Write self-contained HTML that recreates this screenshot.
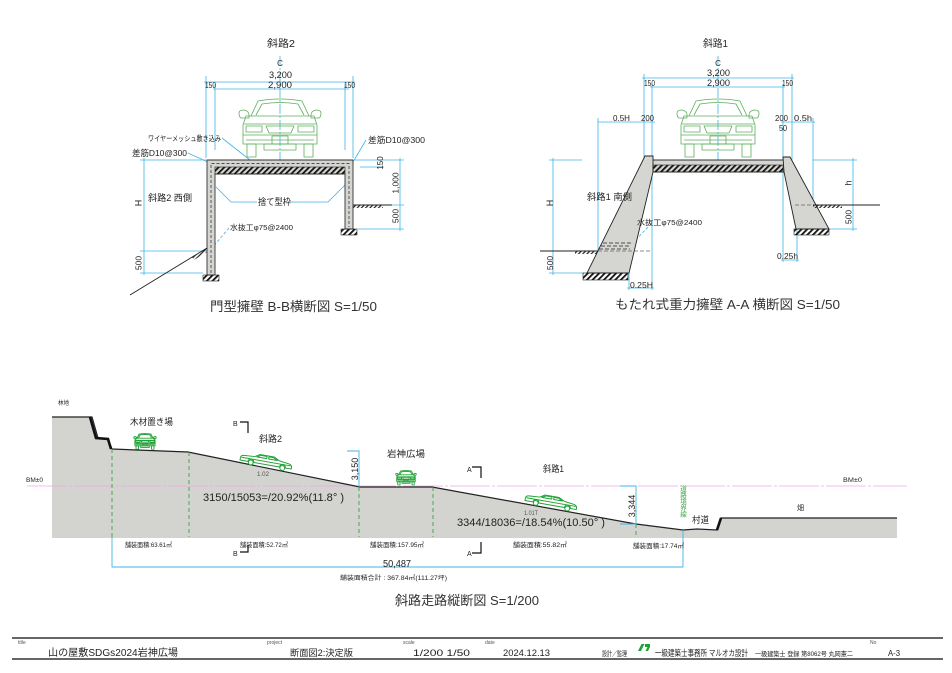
<!DOCTYPE html>
<html><head><meta charset="utf-8">
<style>html,body{margin:0;padding:0;background:#fff}svg{display:block}</style>
</head>
<body>
<svg width="952" height="673" viewBox="0 0 952 673" xmlns="http://www.w3.org/2000/svg" font-family="'Liberation Sans','Noto Sans CJK JP',sans-serif">
<defs>
<pattern id="h" width="4" height="4" patternUnits="userSpaceOnUse" patternTransform="rotate(45)"><rect width="1.8" height="4" fill="#111"/></pattern>
<pattern id="g" width="3" height="3" patternUnits="userSpaceOnUse" patternTransform="rotate(45)"><rect width="1.2" height="3" fill="#222"/></pattern>
<symbol id="carF" viewBox="0 0 88 61">
<g fill="none" stroke-linejoin="round">
<path d="M15,19 L22,4 Q44,0 66,4 L73,19"/>
<path d="M20,18 L26,7 Q44,4 62,7 L68,18"/>
<path d="M3,16 Q3,13 8,13 Q13,14 13,18 L13,21 L5,21 Q3,20 3,16Z"/>
<path d="M85,16 Q85,13 80,13 Q75,14 75,18 L75,21 L83,21 Q85,20 85,16Z"/>
<path d="M10,19 L78,19 L81,28 L81,47 L7,47 L7,28 Z"/>
<path d="M8,27 L80,27"/>
<rect x="10" y="29" width="16" height="6"/>
<rect x="62" y="29" width="16" height="6"/>
<path d="M30,29 L58,29 L55,36 L33,36 Z"/>
<path d="M7,38 L81,38 M10,43 L78,43"/>
<rect x="36" y="39" width="16" height="8"/>
<rect x="11" y="47" width="9" height="13"/>
<rect x="68" y="47" width="9" height="13"/>
<rect x="28" y="47" width="32" height="6"/>
</g>
</symbol>
<symbol id="carS" viewBox="0 0 54 13">
<g stroke-linejoin="round">
<path fill="#fff" d="M1,7 Q1,4.5 4,4.2 L15,3.5 L20,0.5 L34,0.5 L40,3.5 L50,4.8 Q53,5.5 53,8 L53,9.5 L47,9.5 A3,3 0 0 0 41,9.5 L15,9.5 A3,3 0 0 0 9,9.5 L1,9.5 Z"/>
<path fill="none" d="M17,3.5 L21,1.3 L27,1.3 L27,3.5 Z M29,3.5 L29,1.3 L33.5,1.3 L38,3.5 Z M2,6.5 L52,6.5"/>
<circle cx="12" cy="10" r="2.4" fill="#fff"/>
<circle cx="44" cy="10" r="2.4" fill="#fff"/>
</g>
</symbol>
</defs>
<rect width="952" height="673" fill="#fff"/>

<!-- ============ LEFT CROSS SECTION ============ -->
<g stroke="#3db5e6" stroke-width="0.8" fill="none">
<path d="M280,56 V160" stroke-dasharray="10 2 2 2"/>
<path d="M204,82 H355 M213,89 H349"/>
<path d="M206,76 V158 M215,84 V150 M345,84 V150 M353,76 V158"/>
<path d="M144,158 V275 M140,160 H206 M140,251 H207 M140,273 H203"/>
<path d="M400,158 V231 M355,160 H404 M355,205 H404 M358,229 H404 M360,167 H384"/>
<path d="M222,138 L250,160"/>
<path d="M188,153 L210,163"/>
<path d="M366,140 L353,162"/>
<path d="M257,202 H231 L216,187 M291,202 H328 L345,185"/>
<path d="M229,228 L212,248" stroke-dasharray="3 2"/>
</g>
<use href="#carF" x="236" y="97" width="88" height="61" stroke="#5cae5c" stroke-width="0.8"/>
<path d="M207,275 V160 H353 V229 H345 V174 H215 V275 Z" fill="#d5d5d1" stroke="#333" stroke-width="0.9"/>
<rect x="215" y="167" width="130" height="7" fill="url(#h)" stroke="#222" stroke-width="0.6"/>
<path d="M211,273 V163.5 H349 V227" fill="none" stroke="#222" stroke-width="0.7" stroke-dasharray="3 2"/>
<rect x="203" y="275" width="16" height="6" fill="url(#h)" stroke="#222" stroke-width="0.6"/>
<rect x="341" y="229" width="16" height="6" fill="url(#h)" stroke="#222" stroke-width="0.6"/>
<path d="M130,295 L207,248" stroke="#222" stroke-width="0.9"/>
<polygon points="192,257 207,248 207,252 194,260" fill="url(#g)"/>
<path d="M353,205 H392" stroke="#222" stroke-width="0.9"/>
<rect x="353" y="205" width="30" height="3" fill="url(#g)"/>

<g fill="#222">
<text x="267" y="47" font-size="10" textLength="28" lengthAdjust="spacingAndGlyphs">斜路2</text>
<text x="280" y="66" font-size="8" text-anchor="middle">C</text>
<text x="269" y="78" font-size="9" textLength="23" lengthAdjust="spacingAndGlyphs">3,200</text>
<text x="268" y="88" font-size="9" textLength="24" lengthAdjust="spacingAndGlyphs">2,900</text>
<text x="205" y="88" font-size="8" textLength="11" lengthAdjust="spacingAndGlyphs">150</text>
<text x="344" y="88" font-size="8" textLength="11" lengthAdjust="spacingAndGlyphs">150</text>
<text x="148" y="141" font-size="7.5" textLength="73" lengthAdjust="spacingAndGlyphs">ワイヤーメッシュ敷き込み</text>
<text x="132" y="156" font-size="8.5" textLength="55" lengthAdjust="spacingAndGlyphs">差筋D10@300</text>
<text x="368" y="143" font-size="8.5" textLength="57" lengthAdjust="spacingAndGlyphs">差筋D10@300</text>
<text x="148" y="201" font-size="9" textLength="44" lengthAdjust="spacingAndGlyphs">斜路2 西側</text>
<text x="258" y="205" font-size="9" textLength="33" lengthAdjust="spacingAndGlyphs">捨て型枠</text>
<text x="230" y="230" font-size="7.5" textLength="63" lengthAdjust="spacingAndGlyphs">水抜工φ75@2400</text>
<text transform="translate(141.5,203) rotate(-90)" font-size="9" text-anchor="middle">H</text>
<text transform="translate(141.5,263) rotate(-90)" font-size="8.5" text-anchor="middle">500</text>
<text transform="translate(398.5,183) rotate(-90)" font-size="8.5" text-anchor="middle">1,000</text>
<text transform="translate(398.5,216) rotate(-90)" font-size="8.5" text-anchor="middle">500</text>
<text transform="translate(383,163) rotate(-90)" font-size="8" text-anchor="middle">150</text>
<text x="210" y="311" font-size="13" textLength="167" lengthAdjust="spacingAndGlyphs" fill="#333">門型擁壁 B-B横断図 S=1/50</text>
</g>

<!-- ============ RIGHT CROSS SECTION ============ -->
<g stroke="#3db5e6" stroke-width="0.8" fill="none">
<path d="M718,56 V160" stroke-dasharray="10 2 2 2"/>
<path d="M642,78 H794 M650,87 H785"/>
<path d="M644,74 V160 M652,84 V290 M783,84 V262 M792,74 V160"/>
<path d="M598,122 H655 M598,118 V251 M781,122 H815 M813,118 V205"/>
<path d="M553,158 V275 M549,160 H582 M549,273 H584"/>
<path d="M853,158 V231 M813,160 H857 M826,229 H857"/>
<path d="M797,229 V262 M781,260 H799"/>
<path d="M629,273 V290 M627,288 H654"/>
<path d="M648,227 L633,243" stroke-dasharray="3 2"/>
</g>
<use href="#carF" x="674" y="97" width="88" height="61" stroke="#5cae5c" stroke-width="0.8"/>
<g stroke="#222" stroke-width="0.9" fill="#d5d5d1">
<rect x="645" y="160" width="145" height="12"/>
<path d="M645,156 H653 V172 L629,273 H587 Z"/>
<path d="M783,157 H790 L829,229 H796 L784,172 Z"/>
</g>
<rect x="653" y="165" width="130" height="7" fill="url(#h)" stroke="#222" stroke-width="0.6"/>
<rect x="583" y="273" width="45" height="7" fill="url(#h)" stroke="#222" stroke-width="0.6"/>
<rect x="794" y="229" width="35" height="6" fill="url(#h)" stroke="#222" stroke-width="0.6"/>
<path d="M603,243 H632 M601,246 H631 M599,249 H630" stroke="#222" stroke-width="0.7" stroke-dasharray="4 2"/>
<path d="M598,251 H650 M795,205 H813" stroke="#666" stroke-width="0.7" stroke-dasharray="4 2"/>
<path d="M540,251 H598 M813,205 H880" stroke="#222" stroke-width="0.9"/>
<rect x="575" y="251" width="22" height="3" fill="url(#g)"/>
<rect x="813" y="205" width="29" height="3" fill="url(#g)"/>

<g fill="#222">
<text x="703" y="47" font-size="10" textLength="25" lengthAdjust="spacingAndGlyphs">斜路1</text>
<text x="718" y="66" font-size="8" text-anchor="middle">C</text>
<text x="707" y="76" font-size="9" textLength="23" lengthAdjust="spacingAndGlyphs">3,200</text>
<text x="707" y="86" font-size="9" textLength="23" lengthAdjust="spacingAndGlyphs">2,900</text>
<text x="644" y="86" font-size="8" textLength="11" lengthAdjust="spacingAndGlyphs">150</text>
<text x="782" y="86" font-size="8" textLength="11" lengthAdjust="spacingAndGlyphs">150</text>
<text x="613" y="121" font-size="8" textLength="17" lengthAdjust="spacingAndGlyphs">0.5H</text>
<text x="641" y="121" font-size="8" textLength="13" lengthAdjust="spacingAndGlyphs">200</text>
<text x="775" y="121" font-size="8" textLength="13" lengthAdjust="spacingAndGlyphs">200</text>
<text x="794" y="121" font-size="8" textLength="18" lengthAdjust="spacingAndGlyphs">0.5h</text>
<text x="779" y="131" font-size="8" textLength="8" lengthAdjust="spacingAndGlyphs">50</text>
<text x="587" y="200" font-size="9" textLength="45" lengthAdjust="spacingAndGlyphs">斜路1 南側</text>
<text x="637" y="225" font-size="7.5" textLength="65" lengthAdjust="spacingAndGlyphs">水抜工φ75@2400</text>
<text transform="translate(553,203) rotate(-90)" font-size="9" text-anchor="middle">H</text>
<text transform="translate(553,263) rotate(-90)" font-size="8.5" text-anchor="middle">500</text>
<text transform="translate(851.5,183) rotate(-90)" font-size="9" text-anchor="middle">h</text>
<text transform="translate(851.5,217) rotate(-90)" font-size="8.5" text-anchor="middle">500</text>
<text x="777" y="259" font-size="8" textLength="21" lengthAdjust="spacingAndGlyphs">0.25h</text>
<text x="630" y="288" font-size="8" textLength="23" lengthAdjust="spacingAndGlyphs">0.25H</text>
<text x="615" y="309" font-size="13" textLength="225" lengthAdjust="spacingAndGlyphs" fill="#333">もたれ式重力擁壁 A-A 横断図 S=1/50</text>
</g>

<!-- ============ LONGITUDINAL SECTION ============ -->
<polygon points="52,417 92,417 98,438 108,439 112,449 188,452 360,487 432,487 636,524 683,530 697,529 717,530 721,518 897,518 897,538 52,538" fill="#d3d3cf"/>
<path d="M27,486 H907" stroke="#f2a6e6" stroke-width="0.8" stroke-dasharray="40 2 3 2"/>
<polyline points="52,417 92,417 98,438 108,439 112,449 188,452 360,487 432,487 636,524 683,530 697,529 717,530 721,518 897,518" fill="none" stroke="#222" stroke-width="1.2"/>
<polyline points="90,417 96,438 108,439 111,449" fill="none" stroke="#111" stroke-width="2.6"/>
<path d="M717,530 L721,518" stroke="#111" stroke-width="2.6"/>
<g stroke="#3aa544" stroke-width="0.9" stroke-dasharray="4 3">
<path d="M112,449 V537 M189,452 V537 M359,487 V537 M433,487 V537 M636,524 V538"/>
</g>
<g stroke="#3db5e6" stroke-width="0.9" fill="none">
<path d="M112,537 V567 H683 V530"/>
<path d="M347,451 H359 V487"/>
<path d="M620,486 H636 V524 M620,524 H636"/>
</g>
<g stroke="#111" stroke-width="1.2" fill="none">
<path d="M240,422 H248 V433"/>
<path d="M240,552 H248 V545"/>
<path d="M472,467 H481 V478"/>
<path d="M472,553 H481 V542"/>
</g>
<use href="#carF" x="133" y="433" width="24" height="16.6" stroke="#22a236" stroke-width="3.5"/>
<use href="#carF" x="395" y="470" width="22" height="15.3" stroke="#22a236" stroke-width="3.5"/>
<use href="#carS" width="54" height="13" stroke="#22a236" stroke-width="1" transform="translate(265,468) rotate(10) translate(-27,-13)"/>
<use href="#carS" width="54" height="13" stroke="#22a236" stroke-width="1" transform="translate(550,508.5) rotate(10) translate(-27,-13)"/>

<g fill="#222">
<text x="58" y="405" font-size="6" textLength="11" lengthAdjust="spacingAndGlyphs">林地</text>
<text x="130" y="425" font-size="9" textLength="43" lengthAdjust="spacingAndGlyphs">木材置き場</text>
<text x="233" y="426" font-size="7">B</text>
<text x="233" y="556" font-size="7">B</text>
<text x="259" y="442" font-size="9" textLength="23" lengthAdjust="spacingAndGlyphs">斜路2</text>
<text x="257" y="476" font-size="6" textLength="12" lengthAdjust="spacingAndGlyphs" fill="#555">1.02</text>
<text transform="translate(358,469) rotate(-90)" font-size="9" text-anchor="middle">3,150</text>
<text x="387" y="457" font-size="9" textLength="38" lengthAdjust="spacingAndGlyphs">岩神広場</text>
<text x="203" y="501" font-size="11" textLength="141" lengthAdjust="spacingAndGlyphs">3150/15053=/20.92%(11.8° )</text>
<text x="26" y="482" font-size="6" textLength="17" lengthAdjust="spacingAndGlyphs">BM±0</text>
<text x="467" y="472" font-size="7">A</text>
<text x="467" y="556" font-size="7">A</text>
<text x="543" y="472" font-size="9" textLength="21" lengthAdjust="spacingAndGlyphs">斜路1</text>
<text x="524" y="515" font-size="6" textLength="14" lengthAdjust="spacingAndGlyphs" fill="#555">1.01T</text>
<text x="457" y="526" font-size="11" textLength="148" lengthAdjust="spacingAndGlyphs">3344/18036=/18.54%(10.50° )</text>
<text transform="translate(635,506) rotate(-90)" font-size="9" text-anchor="middle">3,344</text>
<text x="682" y="485" font-size="6.5" fill="#3aa544" style="writing-mode:vertical-rl">道路境界線</text>
<text x="692" y="523" font-size="9" textLength="17" lengthAdjust="spacingAndGlyphs">村道</text>
<text x="797" y="510" font-size="7">畑</text>
<text x="843" y="482" font-size="6" textLength="19" lengthAdjust="spacingAndGlyphs">BM±0</text>
<text x="125" y="547" font-size="6.5" textLength="47" lengthAdjust="spacingAndGlyphs">舗装面積:63.61㎡</text>
<text x="240" y="547" font-size="6.5" textLength="48" lengthAdjust="spacingAndGlyphs">舗装面積:52.72㎡</text>
<text x="370" y="547" font-size="6.5" textLength="54" lengthAdjust="spacingAndGlyphs">舗装面積:157.95㎡</text>
<text x="513" y="547" font-size="6.5" textLength="54" lengthAdjust="spacingAndGlyphs">舗装面積:55.82㎡</text>
<text x="633" y="548" font-size="6.5" textLength="51" lengthAdjust="spacingAndGlyphs">舗装面積:17.74㎡</text>
<text x="383" y="567" font-size="10" textLength="28" lengthAdjust="spacingAndGlyphs">50,487</text>
<text x="340" y="580" font-size="6" textLength="107" lengthAdjust="spacingAndGlyphs">舗装面積合計 : 367.84㎡(111.27坪)</text>
<text x="395" y="605" font-size="13" textLength="144" lengthAdjust="spacingAndGlyphs" fill="#333">斜路走路縦断図 S=1/200</text>
</g>

<!-- ============ TITLE BLOCK ============ -->
<path d="M12,638 H943" stroke="#333" stroke-width="1.6"/>
<path d="M12,659 H943" stroke="#333" stroke-width="1.4"/>
<g fill="#555" font-size="5">
<text x="18" y="644">title</text>
<text x="267" y="644">project</text>
<text x="403" y="644">scale</text>
<text x="485" y="644">date</text>
<text x="870" y="644">No</text>
</g>
<g fill="#222">
<text x="48" y="656" font-size="10" textLength="130" lengthAdjust="spacingAndGlyphs">山の屋敷SDGs2024岩神広場</text>
<text x="290" y="656" font-size="9" textLength="63" lengthAdjust="spacingAndGlyphs">断面図2:決定版</text>
<text x="413" y="656" font-size="9" textLength="57" lengthAdjust="spacingAndGlyphs">1/200 1/50</text>
<text x="503" y="656" font-size="9" textLength="47" lengthAdjust="spacingAndGlyphs">2024.12.13</text>
<text x="602" y="656" font-size="7" textLength="25" lengthAdjust="spacingAndGlyphs">設計／監理</text>
<text x="655" y="656" font-size="8.5" textLength="93" lengthAdjust="spacingAndGlyphs">一級建築士事務所 マルオカ設計</text>
<text x="755" y="656" font-size="6.5" textLength="98" lengthAdjust="spacingAndGlyphs">一級建築士 登録 第8062号 丸岡憲二</text>
<text x="888" y="656" font-size="8" textLength="12" lengthAdjust="spacingAndGlyphs">A-3</text>
</g>
<polygon points="638,651 641.5,644 644.5,644 641,651" fill="#22a236"/>
<polygon points="645,644 650,644 650,647 648,651 645.5,651 647.5,647 645,647" fill="#22a236"/>
</svg>
</body>
</html>
